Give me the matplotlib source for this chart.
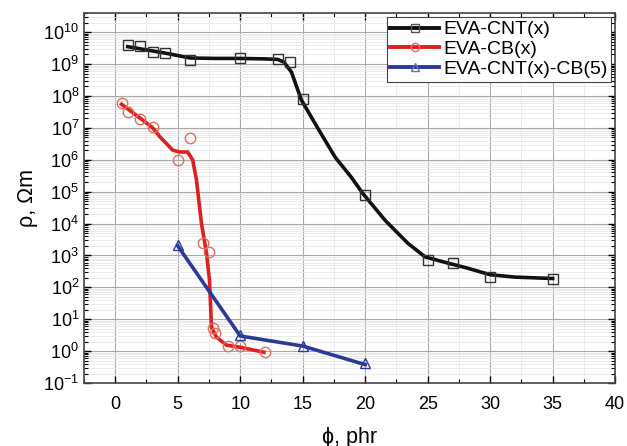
import numpy as np
import matplotlib.pyplot as plt
from matplotlib.ticker import LogLocator, MultipleLocator, NullFormatter

plt.rcParams['font.family'] = ['Liberation Sans', 'DejaVu Sans']

# EVA-CNT(x): measured points
cnt_x = [1, 2, 3, 4, 6, 10, 13, 14, 15, 20, 25, 27, 30, 35]
cnt_y = [3.9e9, 3.6e9, 2.4e9, 2.2e9, 1.3e9, 1.6e9, 1.4e9, 1.15e9, 8e7, 8e4, 7e2, 6e2, 2.1e2, 1.9e2]
# EVA-CNT(x): fitted curve
cnt_fit_x = [1, 2, 4, 6, 8, 10, 12, 13, 13.5, 14.1, 14.9, 16.3, 17.6, 18.9, 19.8, 21.6, 23.4, 24.8, 26.6,
             28.2, 30, 32, 35]
cnt_fit_y = [3.5e9, 3.0e9, 2.2e9, 1.55e9, 1.5e9, 1.5e9, 1.45e9, 1.4e9, 1.15e9, 5.6e8, 7.4e7, 8.5e6, 1.2e6,
             2.8e5, 8.9e4, 1.26e4, 2.45e3, 9e2, 5.8e2, 4e2, 2.5e2, 2.1e2, 1.9e2]

# EVA-CB(x)
cb_x = [0.5, 1, 2, 3, 5, 6, 7, 7.5, 7.8, 8, 9, 10, 12]
cb_y = [5.9e7, 3.2e7, 1.9e7, 1.05e7, 1e6, 4.8e6, 2.5e3, 1.3e3, 5.2, 3.6, 1.45, 1.5, 0.93]
cb_fit_x = [0.5, 2, 3, 3.6, 4.6, 5.15, 5.8, 6.2, 6.5, 6.9, 7.3, 7.54, 7.7, 8.1, 8.9, 9.9, 11.9]
cb_fit_y = [5.5e7, 2e7, 1e7, 5.1e6, 2e6, 1.75e6, 1.75e6, 9.8e5, 2.3e5, 1e4, 1.2e3, 1.7e2, 5.6, 2.75, 1.55,
            1.35, 0.93]

# EVA-CNT(x)-CB(5)
mix_x = [5, 10, 15, 20]
mix_y = [2.1e3, 3.2, 1.5, 0.42]
mix_fit_y = [2.0e3, 3.0, 1.45, 0.38]

fig = plt.figure(figsize=(6.27, 4.46), dpi=100)
ax = fig.add_axes([0.134, 0.141, 0.847, 0.83])

black = '#111111'
red = '#e02020'
blue = '#2a3a9a'

ax.plot(cnt_fit_x, cnt_fit_y, color=black, lw=2.6, zorder=3)
ax.plot(cnt_x, cnt_y, ls='none', marker='s', ms=7, mfc='none', mec='#333333', mew=1.0, zorder=4)
ax.plot(cb_fit_x, cb_fit_y, color=red, lw=2.6, zorder=3)
ax.plot(cb_x, cb_y, ls='none', marker='o', ms=7.5, mfc='none', mec='#e07060', mew=1.0, zorder=4)
ax.plot(mix_x, mix_fit_y, color=blue, lw=2.6, zorder=3)
ax.plot(mix_x, mix_y, ls='none', marker='^', ms=7.5, mfc='none', mec=blue, mew=1.0, zorder=4)

# legend handles
ax.plot([], [], color=black, lw=2.8, marker='s', ms=6, mfc='none', mec='#555555', label='EVA-CNT(x)')
ax.plot([], [], color=red, lw=2.8, marker='o', ms=6, mfc='none', mec='#e07060', label='EVA-CB(x)')
ax.plot([], [], color=blue, lw=2.8, marker='^', ms=6, mfc='none', mec='#6070c0', label='EVA-CNT(x)-CB(5)')
leg = ax.legend(loc='upper right', fontsize=14, handlelength=2.5, handletextpad=0.2, borderpad=0.2,
                labelspacing=0.12, fancybox=False, edgecolor='#444444', framealpha=1,
                borderaxespad=0.2)
leg.get_frame().set_linewidth(0.8)

ax.set_yscale('log')
ax.set_xlim(-2.5, 40)
ax.set_ylim(0.1, 4e10)
ax.xaxis.set_major_locator(MultipleLocator(5))
ax.xaxis.set_minor_locator(MultipleLocator(2.5))
ax.yaxis.set_major_locator(LogLocator(base=10, numticks=15))
ax.yaxis.set_minor_locator(LogLocator(base=10, subs=np.arange(2, 10), numticks=15))
ax.yaxis.set_minor_formatter(NullFormatter())

ax.grid(which='major', color='#aaaaaa', lw=0.8)
ax.grid(which='minor', color='#e8e8e8', lw=0.6)
ax.set_axisbelow(True)

ax.tick_params(which='both', direction='in', top=True, right=True, labelsize=13)
ax.tick_params(axis='x', pad=9)
ax.tick_params(which='major', length=5, width=1)
ax.tick_params(which='minor', length=3, width=0.8)
for s in ax.spines.values():
    s.set_linewidth(1.2)
    s.set_color('#444444')

ax.set_xlabel('ϕ, phr', fontsize=15.5, labelpad=10)
ax.set_ylabel('ρ, Ωm', fontsize=15.5, labelpad=4)

fig.savefig('out.png', dpi=100)
